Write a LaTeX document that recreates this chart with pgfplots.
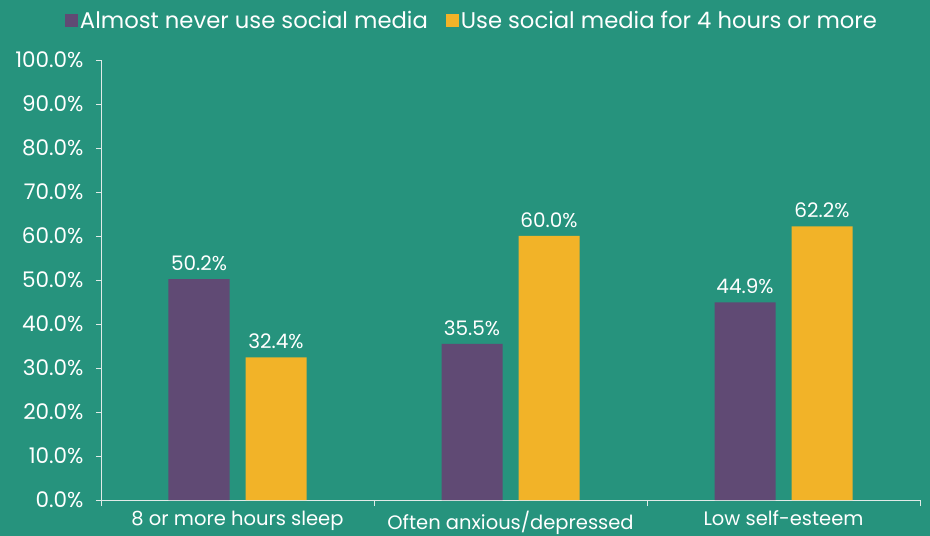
\documentclass[border=0pt]{standalone}
\usepackage{pgfplots}
\pgfplotsset{compat=1.18}
\usepackage{fontspec}
\setmainfont{Poppins}
\definecolor{bg}{RGB}{38,147,125}
\definecolor{purp}{RGB}{96,74,116}
\definecolor{yell}{RGB}{242,179,40}
\definecolor{axl}{RGB}{225,235,232}
\begin{document}
\begin{tikzpicture}
\fill[bg] (-101bp,-36bp) rectangle (829bp,500bp);
\begin{axis}[
  at={(0,0)}, anchor=south west,
  scale only axis, width=819bp, height=440bp,
  xmin=-0.5, xmax=2.5, ymin=0, ymax=100,
  axis x line*=bottom, axis y line*=left,
  axis line style={axl, line width=0.9bp},
  xtick={0,1,2},
  xticklabels={8 or more hours sleep, Often anxious/depressed, Low self-esteem},
  major x tick style={draw=none},
  minor xtick={-0.5,0.5,1.5,2.5},
  minor x tick style={axl, line width=0.9bp},
  minor tick length=6bp,
  ytick={0,10,...,100},
  major tick length=5bp,
  major y tick style={axl, line width=0.9bp},
  tick align=outside,
  /pgf/number format/assume math mode=true,
  yticklabel={\pgfmathprintnumber[fixed,fixed zerofill,precision=1]{\tick}\%},
  yticklabel style={font=\fontsize{21.5bp}{25bp}\selectfont, text=white, xshift=-9bp},
  xticklabel style={font=\fontsize{19.5bp}{23bp}\selectfont, text=white, yshift=-2.5bp},
  ybar, bar width=61bp,
  nodes near coords={\pgfmathprintnumber[fixed,fixed zerofill,precision=1]{\pgfplotspointmeta}\%},
  nodes near coords style={font=\fontsize{20bp}{24bp}\selectfont, text=white, yshift=5bp},
  legend style={at={(0.453,1.089)}, anchor=center, draw=none, fill=none,
    font=\fontsize{22.7bp}{26bp}\selectfont, text=white, legend columns=2,
    /tikz/every even column/.append style={column sep=16bp}},
  legend image code/.code={\fill[#1] (0bp,-6.5bp) rectangle (13bp,6.5bp);},
  clip=false,
]
\addplot[fill=purp, draw=none, bar shift=-38.5bp] coordinates {(0,50.2) (1,35.5) (2,44.9)};
\addlegendentry{Almost never use social media}
\addplot[fill=yell, draw=none, bar shift=38.5bp] coordinates {(0,32.4) (1,60.0) (2,62.2)};
\addlegendentry{Use social media for 4 hours or more}
\end{axis}
\pgfresetboundingbox
\useasboundingbox (-101bp,-36bp) rectangle (829bp,500bp);
\end{tikzpicture}
\end{document}
